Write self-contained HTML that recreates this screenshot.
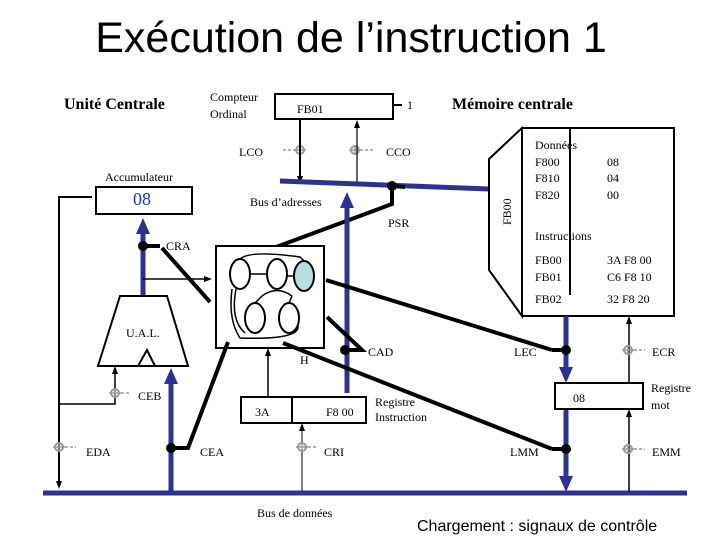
<!DOCTYPE html>
<html><head><meta charset="utf-8"><style>
body{margin:0;background:#fff}
svg{display:block}
.s{font-family:"Liberation Serif",serif;font-size:12px;fill:#000}
</style></head><body>
<svg width="720" height="540" viewBox="0 0 720 540" xmlns="http://www.w3.org/2000/svg">
<defs>
<marker id="a" markerWidth="8" markerHeight="8" refX="4" refY="4" orient="auto" markerUnits="userSpaceOnUse"><path d="M0,1 L8,4 L0,7 Z" fill="#000"/></marker>
<marker id="b" markerWidth="16" markerHeight="16" refX="8" refY="8" orient="auto" markerUnits="userSpaceOnUse"><path d="M0,1 L16,8 L0,15 Z" fill="#2e3192"/></marker>
<g id="m"><circle cx="0" cy="0" r="4" fill="none" stroke="#999" stroke-width="2"/><line x1="-6" y1="0" x2="6" y2="0" stroke="#999" stroke-width="1.5"/><line x1="0" y1="-5" x2="0" y2="5" stroke="#999" stroke-width="1.5"/></g>
</defs>
<text x="351" y="52" font-family="Liberation Sans,sans-serif" font-size="43" text-anchor="middle">Exécution de l’instruction 1</text>
<text x="64" y="109" font-family="Liberation Serif,serif" font-size="16" font-weight="bold">Unité Centrale</text>
<text x="452" y="109" font-family="Liberation Serif,serif" font-size="16" font-weight="bold">Mémoire centrale</text>
<text class="s" x="210" y="101">Compteur</text><text class="s" x="210" y="118">Ordinal</text>
<rect x="275" y="94" width="118" height="25" fill="#fff" stroke="#000" stroke-width="2"/>
<text class="s" x="297" y="113">FB01</text>
<line x1="393" y1="105" x2="402" y2="105" stroke="#000" stroke-width="2"/><text class="s" x="407" y="109">1</text>
<text class="s" x="239" y="156">LCO</text><text class="s" x="386" y="156">CCO</text>
<line x1="283" y1="150" x2="295" y2="150" stroke="#999" stroke-dasharray="3,2" stroke-width="1.5"/><use href="#m" x="300" y="150"/>
<line x1="360" y1="150" x2="374" y2="150" stroke="#999" stroke-dasharray="3,2" stroke-width="1.5"/><use href="#m" x="355" y="150"/>
<line x1="300" y1="119" x2="300" y2="180" stroke="#000" stroke-width="2" marker-end="url(#a)"/>
<line x1="357" y1="184" x2="357" y2="124" stroke="#000" stroke-width="1.2" marker-end="url(#a)"/>
<line x1="280" y1="181" x2="489" y2="189" stroke="#2e3192" stroke-width="5"/>
<line x1="392" y1="186" x2="405" y2="187" stroke="#000" stroke-width="4"/>
<circle cx="392" cy="186" r="5" fill="#000"/>
<polyline points="392,186 392,204 260,253" fill="none" stroke="#000" stroke-width="4"/>
<text class="s" x="250" y="206">Bus d’adresses</text>
<text class="s" x="388" y="227">PSR</text>
<line x1="347" y1="393" x2="347" y2="200" stroke="#2e3192" stroke-width="5" marker-end="url(#b)"/>
<text class="s" x="105" y="181">Accumulateur</text>
<rect x="96" y="187" width="96" height="27" fill="#fff" stroke="#000" stroke-width="2"/>
<text x="133" y="205" font-family="Liberation Serif,serif" font-size="18" fill="#1f3a8a">08</text>
<polyline points="92,197 59,197 59,485" fill="none" stroke="#000" stroke-width="2" marker-end="url(#a)"/>
<line x1="143" y1="296" x2="143" y2="226" stroke="#2e3192" stroke-width="5" marker-end="url(#b)"/>
<circle cx="143" cy="246" r="5" fill="#000"/><line x1="143" y1="246" x2="160" y2="246" stroke="#000" stroke-width="4"/>
<text class="s" x="166" y="250">CRA</text>
<line x1="162" y1="248" x2="210" y2="302" stroke="#000" stroke-width="4"/>
<line x1="143" y1="279" x2="208" y2="279" stroke="#000" stroke-width="1.5" marker-end="url(#a)"/>
<polygon points="120,296 167,296 188,366 98,366" fill="#fff" stroke="#000" stroke-width="2"/>
<polygon points="138,366 147,350 155,366" fill="none" stroke="#000" stroke-width="2"/>
<text class="s" x="126" y="337">U.A.L.</text>
<rect x="216" y="246" width="108" height="102" fill="#fff" stroke="#000" stroke-width="2"/>
<g fill="#fff" stroke="#000" stroke-width="2">
<ellipse cx="240" cy="274" rx="10" ry="15"/><ellipse cx="277" cy="274" rx="10" ry="15"/>
<ellipse cx="304" cy="276" rx="10" ry="15" fill="#b8dfe0"/>
<ellipse cx="255" cy="318" rx="10" ry="15"/><ellipse cx="289" cy="318" rx="10" ry="15"/>
</g>
<g fill="none" stroke="#000" stroke-width="1.5">
<path d="M240,259 Q250,250 300,257 L304,261"/><path d="M250,274 L267,274"/><path d="M287,276 L294,276"/>
<path d="M262,296 Q277,285 292,296"/><path d="M262,296 L255,303"/><path d="M292,296 L289,303"/>
<path d="M298,326 Q300,340 240,338 Q228,320 232,289"/><path d="M245,333 Q230,320 236,289"/>
</g>
<text class="s" x="300" y="364">H</text>
<line x1="326" y1="280" x2="552" y2="350" stroke="#000" stroke-width="4"/>
<line x1="283" y1="343" x2="552" y2="449" stroke="#000" stroke-width="4"/>
<polyline points="327,317 362,350 345,350" fill="none" stroke="#000" stroke-width="4"/>
<circle cx="345" cy="350" r="5" fill="#000"/>
<text class="s" x="368" y="356">CAD</text>
<polyline points="228,342 188,448 171,448" fill="none" stroke="#000" stroke-width="4"/>
<line x1="171" y1="493" x2="171" y2="376" stroke="#2e3192" stroke-width="5" marker-end="url(#b)"/>
<circle cx="171" cy="448" r="5" fill="#000"/>
<text class="s" x="200" y="456">CEA</text>
<line x1="268" y1="397" x2="268" y2="352" stroke="#000" stroke-width="1.5" marker-end="url(#a)"/>
<rect x="241" y="397" width="125" height="26" fill="#fff" stroke="#000" stroke-width="2"/>
<line x1="292" y1="397" x2="292" y2="423" stroke="#000" stroke-width="2"/>
<text class="s" x="255" y="416">3A</text><text class="s" x="326" y="416">F8 00</text>
<text class="s" x="375" y="406">Registre</text><text class="s" x="375" y="421">Instruction</text>
<line x1="302" y1="492" x2="302" y2="427" stroke="#000" stroke-width="1" marker-end="url(#a)"/>
<use href="#m" x="302" y="447"/><line x1="308" y1="447" x2="318" y2="447" stroke="#999" stroke-dasharray="3,2" stroke-width="1.5"/>
<text class="s" x="324" y="456">CRI</text>
<polyline points="59,404 115,404 115,370" fill="none" stroke="#000" stroke-width="1.5" marker-end="url(#a)"/>
<use href="#m" x="115" y="393"/><line x1="121" y1="393" x2="131" y2="393" stroke="#999" stroke-dasharray="3,2" stroke-width="1.5"/>
<text class="s" x="138" y="400">CEB</text>
<use href="#m" x="59" y="447"/><line x1="65" y1="447" x2="76" y2="447" stroke="#999" stroke-dasharray="3,2" stroke-width="1.5"/>
<text class="s" x="86" y="456">EDA</text>
<line x1="43" y1="493" x2="687" y2="493" stroke="#2e3192" stroke-width="5"/>
<text class="s" x="257" y="517">Bus de données</text>
<text x="417" y="531" font-family="Liberation Sans,sans-serif" font-size="16">Chargement : signaux de contrôle</text>
<polygon points="489,159 522,128 522,316 489,270" fill="#fff" stroke="#000" stroke-width="2"/>
<text class="s" transform="translate(511,225) rotate(-90)">FB00</text>
<rect x="522" y="128" width="152" height="188" fill="#fff" stroke="#000" stroke-width="2"/>
<text class="s" x="535" y="149">Données</text>
<text class="s" x="535" y="166">F800</text><text class="s" x="607" y="166">08</text>
<text class="s" x="535" y="182">F810</text><text class="s" x="607" y="182">04</text>
<text class="s" x="535" y="199">F820</text><text class="s" x="607" y="199">00</text>
<text class="s" x="535" y="240">Instructions</text>
<text class="s" x="535" y="264">FB00</text><text class="s" x="607" y="264">3A F8 00</text>
<text class="s" x="535" y="281">FB01</text><text class="s" x="607" y="281">C6 F8 10</text>
<text class="s" x="535" y="303">FB02</text><text class="s" x="607" y="303">32 F8 20</text>
<line x1="570" y1="128" x2="570" y2="295" stroke="#000" stroke-width="2"/>
<line x1="566" y1="316" x2="566" y2="375" stroke="#2e3192" stroke-width="5" marker-end="url(#b)"/>
<line x1="566" y1="409" x2="566" y2="484" stroke="#2e3192" stroke-width="5" marker-end="url(#b)"/>
<line x1="552" y1="350" x2="566" y2="350" stroke="#000" stroke-width="4"/><circle cx="566" cy="350" r="5" fill="#000"/>
<line x1="552" y1="449" x2="566" y2="449" stroke="#000" stroke-width="4"/><circle cx="566" cy="449" r="5" fill="#000"/>
<text class="s" x="514" y="356">LEC</text><text class="s" x="510" y="456">LMM</text>
<rect x="555" y="383" width="88" height="26" fill="#fff" stroke="#000" stroke-width="2"/>
<text class="s" x="573" y="402">08</text>
<text class="s" x="651" y="392">Registre</text><text class="s" x="651" y="409">mot</text>
<line x1="629" y1="383" x2="629" y2="320" stroke="#000" stroke-width="1.5" marker-end="url(#a)"/>
<line x1="629" y1="492" x2="629" y2="413" stroke="#000" stroke-width="1.5" marker-end="url(#a)"/>
<use href="#m" x="628" y="350"/><line x1="634" y1="350" x2="645" y2="350" stroke="#999" stroke-dasharray="3,2" stroke-width="1.5"/>
<use href="#m" x="628" y="449"/><line x1="634" y1="449" x2="645" y2="449" stroke="#999" stroke-dasharray="3,2" stroke-width="1.5"/>
<text class="s" x="652" y="356">ECR</text><text class="s" x="652" y="456">EMM</text>
</svg>
</body></html>
